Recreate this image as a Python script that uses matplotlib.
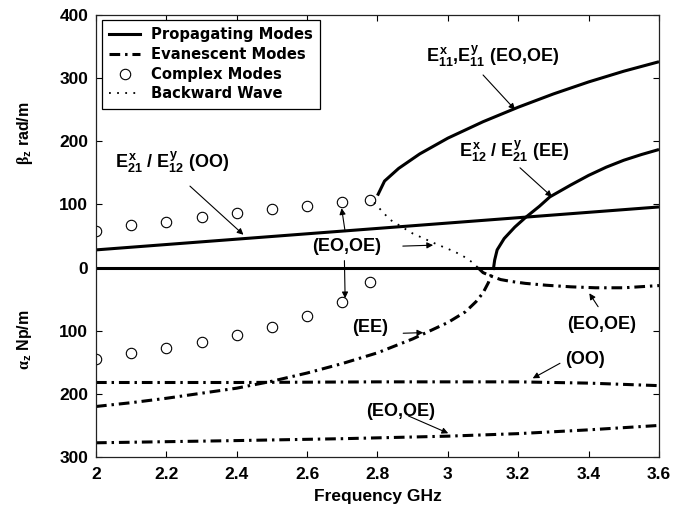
import matplotlib
matplotlib.use("Agg")
import matplotlib.pyplot as plt
import numpy as np
from matplotlib.lines import Line2D

plt.rcParams['font.family'] = ['Liberation Sans', 'DejaVu Sans']
plt.rcParams['font.weight'] = 'bold'
plt.rcParams['mathtext.fontset'] = 'custom'
plt.rcParams['mathtext.rm'] = 'Liberation Sans:bold'
plt.rcParams['mathtext.it'] = 'Liberation Sans:bold'
plt.rcParams['mathtext.bf'] = 'Liberation Sans:bold'
plt.rcParams['mathtext.sf'] = 'Liberation Serif'

# ---- data (beta in rad/m above zero, alpha in Np/m plotted below zero) ----
# complex modes
f_complex = [2.0, 2.1, 2.2, 2.3, 2.4, 2.5, 2.6, 2.7, 2.78]
beta_complex = [58.5, 67.5, 72.7, 80.0, 86.0, 92.5, 97.5, 104.0, 107.5]
alpha_complex = [144.5, 136.0, 127.0, 117.6, 107.0, 94.0, 77.0, 54.0, 23.5]

# propagating E21x / E12y (OO)
f_oo_prop = [2.0, 2.4, 2.8, 3.2, 3.6]
beta_oo_prop = [28.0, 45.0, 62.0, 79.0, 96.0]

# zero-attenuation baseline
f_zero = [2.0, 3.6]
beta_zero = [0.0, 0.0]

# propagating E11x, E11y (EO,OE)
f_e11 = [2.80, 2.82, 2.86, 2.92, 3.0, 3.1, 3.2, 3.3, 3.4, 3.5, 3.6]
beta_e11 = [114, 137, 157, 180, 205, 231, 254, 275, 294, 311, 326]

# propagating E12x / E21y (EE)
f_e12 = [3.13, 3.133, 3.14, 3.16, 3.19, 3.22, 3.26, 3.29, 3.35, 3.40, 3.45, 3.50, 3.55, 3.60]
beta_e12 = [0, 12, 28, 46, 64, 79, 97, 112, 131, 146, 159, 170, 179, 187]

# backward wave (EO,OE)
f_back = [2.79, 2.835, 2.90, 2.968, 3.02, 3.05, 3.075, 3.085]
beta_back = [103, 76, 54, 37, 25, 16, 6, 0]

# evanescent (EO,OE) above cutoff
f_ev_eo1 = [3.085, 3.10, 3.125, 3.15, 3.18, 3.22, 3.28, 3.35, 3.42, 3.5, 3.6]
alpha_ev_eo1 = [0, 8, 14, 19, 22, 25, 28, 30.5, 32, 32, 28.5]

# evanescent (EE)
f_ev_ee = [2.0, 2.1, 2.2, 2.3, 2.4, 2.5, 2.6, 2.7, 2.8, 2.9, 3.0, 3.05, 3.08, 3.10, 3.115, 3.13]
alpha_ev_ee = [220, 214, 207, 199, 191, 180, 167, 152, 135, 113, 87, 70, 54, 40, 24, 0]

# evanescent (OO)
f_ev_oo = [2.0, 2.4, 2.8, 3.0, 3.2, 3.4, 3.6]
alpha_ev_oo = [182, 182, 181, 181, 181, 183, 187]

# evanescent (EO,OE) higher order
f_ev_eo2 = [2.0, 2.4, 2.7, 3.0, 3.2, 3.4, 3.6]
alpha_ev_eo2 = [277.5, 274, 271, 267, 263, 257, 250]

x_ticks = [2.0, 2.2, 2.4, 2.6, 2.8, 3.0, 3.2, 3.4, 3.6]
x_tick_labels = ['2', '2.2', '2.4', '2.6', '2.8', '3', '3.2', '3.4', '3.6']
y_ticks = [400, 300, 200, 100, 0, -100, -200, -300]
y_tick_labels = ['400', '300', '200', '100', '0', '100', '200', '300']

# ---- figure ----
fig = plt.figure(figsize=(6.86, 5.08), dpi=100)
ax = fig.add_axes([96/686, 1-457/508, 563/686, 442/508])

lw_p = 2.2
ev_dash = (0, (3.5, 1.6, 0.8, 1.6))
dot_style = (0, (1, 3.5))

neg = lambda a: -np.asarray(a, dtype=float)

ax.plot(f_zero, beta_zero, color='k', lw=lw_p, solid_capstyle='butt')
ax.plot(f_oo_prop, beta_oo_prop, color='k', lw=lw_p, solid_capstyle='butt')
ax.plot(f_e11, beta_e11, color='k', lw=lw_p, solid_capstyle='butt')
ax.plot(f_e12, beta_e12, color='k', lw=lw_p, solid_capstyle='butt')
ax.plot(f_back, beta_back, color='k', lw=1.3, linestyle=dot_style)
for fx, ay in [(f_ev_eo1, alpha_ev_eo1), (f_ev_ee, alpha_ev_ee),
               (f_ev_oo, alpha_ev_oo), (f_ev_eo2, alpha_ev_eo2)]:
    ax.plot(fx, neg(ay), color='k', lw=lw_p, linestyle=ev_dash)
ax.plot(f_complex, beta_complex, linestyle='none', marker='o', ms=7.5,
        mfc='none', mec='k', mew=0.8)
ax.plot(f_complex, neg(alpha_complex), linestyle='none', marker='o', ms=7.5,
        mfc='none', mec='k', mew=0.8)

ax.set_xlim(2.0, 3.6)
ax.set_ylim(-300, 400)
ax.set_xticks(x_ticks)
ax.set_xticklabels(x_tick_labels)
ax.set_yticks(y_ticks)
ax.set_yticklabels(y_tick_labels)
ax.tick_params(axis='both', which='both', direction='in', top=True, right=True,
               length=4, width=0.8, labelsize=12.5)
ax.tick_params(axis='y', pad=5.5)
ax.tick_params(axis='x', pad=7)
for sp in ax.spines.values():
    sp.set_linewidth(0.9)
    sp.set_color('#222222')

# axis labels
fig.text(25/686, 1-133/508, r'$\mathsf{\beta}_{z}$ rad/m', rotation=90,
         ha='center', va='center', fontsize=11.5)
fig.text(25/686, 1-340/508, r'$\mathsf{\alpha}_{z}$ Np/m', rotation=90,
         ha='center', va='center', fontsize=11.5)
fig.text(0.5503, 1-497/508, 'Frequency GHz', ha='center', va='center',
         fontsize=12.5)

# legend
handles = [
    Line2D([], [], color='k', lw=lw_p),
    Line2D([], [], color='k', lw=lw_p, linestyle=ev_dash),
    Line2D([], [], linestyle='none', marker='o', ms=7.5, mfc='none', mec='k', mew=0.8),
    Line2D([], [], color='k', lw=1.3, linestyle=dot_style),
]
labels = ['Propagating Modes', 'Evanescent Modes', 'Complex Modes', 'Backward Wave']
leg = ax.legend(handles, labels, loc='upper left', bbox_to_anchor=(6/563, 1-5/442),
                borderaxespad=0, frameon=True, fancybox=False, framealpha=1,
                edgecolor='k', handlelength=2.1, handletextpad=0.7,
                labelspacing=0.32, borderpad=0.5,
                prop={'family': 'DejaVu Sans', 'weight': 'bold', 'size': 10.6})
leg.get_frame().set_linewidth(0.9)

# annotations
arrow = dict(arrowstyle='-|>', lw=0.8, color='k', mutation_scale=9,
             shrinkA=0, shrinkB=0)
afs = 13

ax.text(3.128, 326, r'$E^{x}_{11}$,$E^{y}_{11}$ (EO,OE)', ha='center',
        va='baseline', fontsize=afs)
ax.annotate('', xy=(3.191, 250), xytext=(3.10, 305), arrowprops=arrow)

ax.text(3.187, 175.6, r'$E^{x}_{12}$ / $E^{y}_{21}$ (EE)', ha='center',
        va='baseline', fontsize=afs)
ax.annotate('', xy=(3.296, 112), xytext=(3.205, 158), arrowprops=arrow)

ax.text(2.216, 157, r'$E^{x}_{21}$ / $E^{y}_{12}$ (OO)', ha='center',
        va='baseline', fontsize=afs)
ax.annotate('', xy=(2.419, 52), xytext=(2.267, 129), arrowprops=arrow)

ax.text(2.712, 33, '(EO,OE)', ha='center', va='center', fontsize=afs)
ax.annotate('', xy=(2.698, 94), xytext=(2.708, 57), arrowprops=arrow)
ax.annotate('', xy=(2.708, -48.6), xytext=(2.706, 11), arrowprops=arrow)
ax.annotate('', xy=(2.958, 35.5), xytext=(2.872, 34), arrowprops=arrow)

ax.text(2.78, -94.6, '(EE)', ha='center', va='center', fontsize=afs)
ax.annotate('', xy=(2.930, -103), xytext=(2.873, -104), arrowprops=arrow)

ax.text(3.436, -90.9, '(EO,OE)', ha='center', va='center', fontsize=afs)
ax.annotate('', xy=(3.402, -40.7), xytext=(3.427, -62), arrowprops=arrow)

ax.text(3.391, -144.8, '(OO)', ha='center', va='center', fontsize=afs)
ax.annotate('', xy=(3.241, -175.4), xytext=(3.3186, -151.6), arrowprops=arrow)

ax.text(2.866, -228.2, '(EO,OE)', ha='center', va='center', fontsize=afs)
ax.annotate('', xy=(3.001, -262.4), xytext=(2.888, -235), arrowprops=arrow)

fig.savefig('out.png', dpi=100)
